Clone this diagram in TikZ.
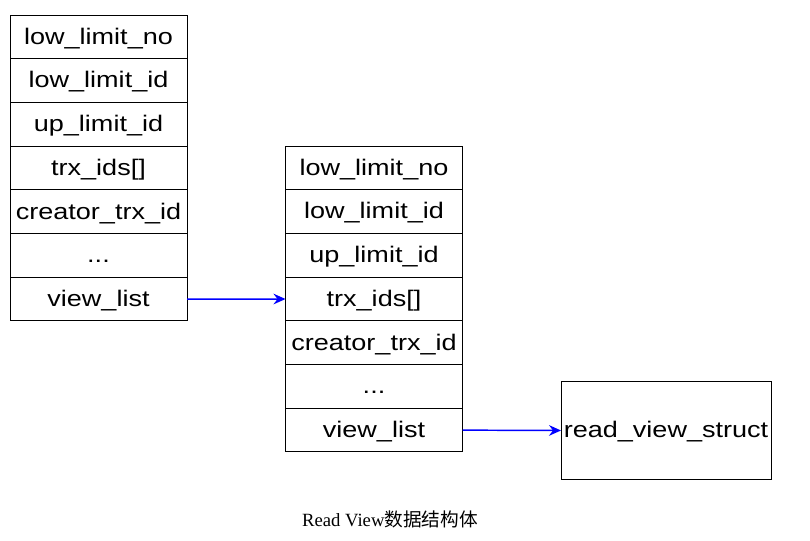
\documentclass[tikz,border=0pt]{standalone}
\usepackage{fontspec}
\setmainfont{Liberation Serif}
\newfontfamily\cellfont[FakeStretch=1.2]{Liberation Sans}
\newfontfamily\cjk{Noto Sans CJK SC}
\usetikzlibrary{positioning}
\usetikzlibrary{arrows.meta}

\begin{document}
\begin{tikzpicture}[x=.75pt, y=-.75pt,
    cell/.style={draw, line width=.75pt, minimum width=132.75pt, minimum height=32.78pt,
        inner sep=0pt, outer sep=0pt, text height=11pt, text depth=0pt,
        font=\cellfont\fontsize{16.9}{19}\selectfont},
    link/.style={-{Stealth[length=9pt, width=8pt, inset=3pt]}, blue, line width=1.1pt}]
    \useasboundingbox (0,0) rectangle (810,541);
    % left read view
    \node[cell] (lno) at (98.5,36.9) {low\_limit\_no};
    \node[cell, below=0pt of lno] (lid) {low\_limit\_id};
    \node[cell, below=0pt of lid] (lup) {up\_limit\_id};
    \node[cell, below=0pt of lup] (lids) {trx\_ids[]};
    \node[cell, below=0pt of lids] (lcr) {creator\_trx\_id};
    \node[cell, below=0pt of lcr] (ldots) {...};
    \node[cell, below=0pt of ldots] (llist) {view\_list};
    % middle read view
    \node[cell] (mno) at (374,167.9) {low\_limit\_no};
    \node[cell, below=0pt of mno] (mid) {low\_limit\_id};
    \node[cell, below=0pt of mid] (mup) {up\_limit\_id};
    \node[cell, below=0pt of mup] (mids) {trx\_ids[]};
    \node[cell, below=0pt of mids] (mcr) {creator\_trx\_id};
    \node[cell, below=0pt of mcr] (mdots) {...};
    \node[cell, below=0pt of mdots] (mlist) {view\_list};
    % struct
    \node[cell, minimum width=157.5pt, minimum height=72.75pt] (rv) at (666,430.5) {read\_view\_struct};
    \draw[link] (llist.east) -- (mids.west);
    \draw[link] (mlist.east) -- (rv.west);
    \node (cap) at (390,519) {\fontsize{14}{16}\selectfont Read View{\cjk 数据结构体}};
\end{tikzpicture}
\end{document}
